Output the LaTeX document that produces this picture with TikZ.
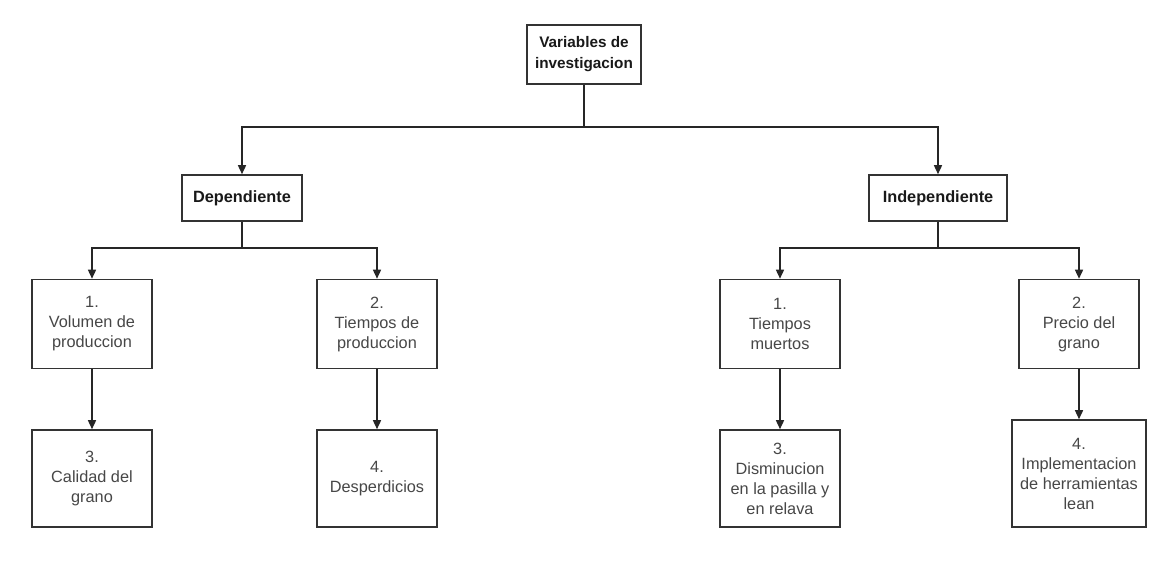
\documentclass[tikz,border=0pt]{standalone}
\usepackage{fontspec}
\setmainfont{Liberation Sans}
\usetikzlibrary{arrows.meta}
\begin{document}
\begin{tikzpicture}[x=1pt,y=-1pt,
  box/.style={draw=black!80, line width=1.6pt, fill=white, align=center, text=black!72,
    font=\fontsize{16.3}{20}\selectfont, inner sep=0pt},
  headbox/.style={box, text=black!90, font=\bfseries\fontsize{16.3}{21}\selectfont},
  rootbox/.style={headbox, font=\bfseries\fontsize{15.3}{21}\selectfont},
  conn/.style={draw=black!85, line width=1.5pt},
  arr/.style={conn, -{Triangle[length=9pt,width=8pt]}}]
\useasboundingbox (0,0) rectangle (1167,563);
\fill[white] (0,0) rectangle (1167,563);
% top level
\node[rootbox, minimum width=114pt, minimum height=59pt] (root) at (584,54.5) {Variables de\\investigacion};
% second level
\node[headbox, minimum width=120pt, minimum height=46pt] (dep) at (242,198) {Dependiente};
\node[headbox, minimum width=138pt, minimum height=46pt] (ind) at (938,198) {Independiente};
% third level
\node[box, minimum width=120pt, minimum height=89pt] (d1) at (92,324) {1.\\Volumen de\\produccion};
\node[box, minimum width=120pt, minimum height=89pt] (d2) at (377,324) {2.\\Tiempos de\\produccion};
\node[box, minimum width=120pt, minimum height=89pt] (i1) at (780,324) {1.\\Tiempos\\muertos};
\node[box, minimum width=120pt, minimum height=89pt] (i2) at (1079,324) {2.\\Precio del\\grano};
% fourth level
\node[box, minimum width=120pt, minimum height=97pt] (d3) at (92,478.5) {3.\\Calidad del\\grano};
\node[box, minimum width=120pt, minimum height=97pt] (d4) at (377,478.5) {4.\\Desperdicios};
\node[box, minimum width=120pt, minimum height=97pt] (i3) at (780,478.5) {3.\\Disminucion\\en la pasilla y\\en relava};
\node[box, minimum width=134pt, minimum height=107pt] (i4) at (1079,473.5) {4.\\Implementacion\\de herramientas\\lean};
% connectors
\coordinate (j0) at (584,127);
\coordinate (j1) at (242,248);
\coordinate (j2) at (938,248);
\draw[conn] (root) -- (j0);
\draw[arr] (j0) -| (dep);
\draw[arr] (j0) -| (ind);
\draw[conn] (dep) -- (j1);
\draw[arr] (j1) -| (d1);
\draw[arr] (j1) -| (d2);
\draw[conn] (ind) -- (j2);
\draw[arr] (j2) -| (i1);
\draw[arr] (j2) -| (i2);
\draw[arr] (d1) -- (d3);
\draw[arr] (d2) -- (d4);
\draw[arr] (i1) -- (i3);
\draw[arr] (i2) -- (i4);
\end{tikzpicture}
\end{document}
